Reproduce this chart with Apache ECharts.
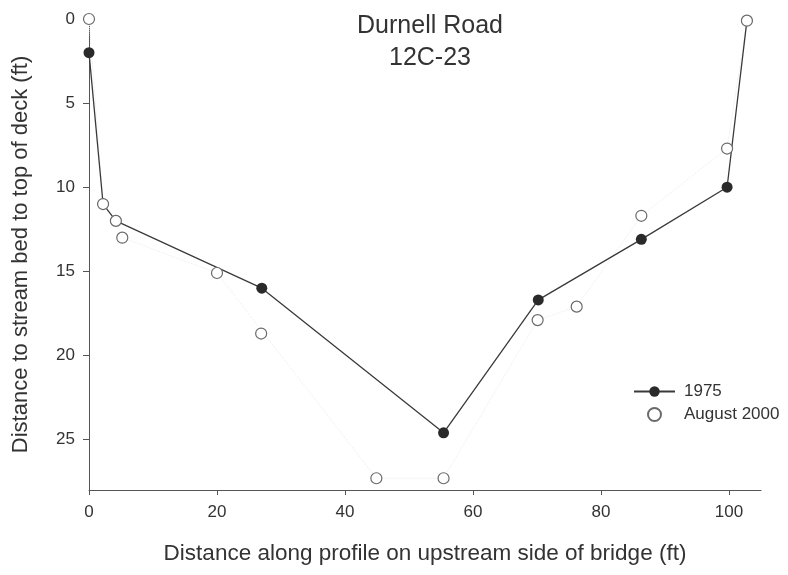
<!DOCTYPE html>
<html>
<head>
<meta charset="utf-8">
<script src="https://cdn.jsdelivr.net/npm/echarts@6/dist/echarts.min.js"></script>
<style>html,body{margin:0;padding:0;background:#fff}#c{width:788px;height:575px}</style>
</head>
<body>
<div id="c"></div>
<script>
// ---- data ----
const xTicks = [0, 20, 40, 60, 80, 100];
const yTicks = [0, 5, 10, 15, 20, 25];

// 1975 profile (vertices of the solid line)
const x1975 = [0.0, 2.2, 4.2, 27.0, 55.4, 70.2, 86.3, 99.7, 102.8];
const y1975 = [2.0, 11.0, 12.0, 16.0, 24.6, 16.7, 13.1, 10.0, 0.1];

// August 2000 survey points
const x2000 = [0.0, 2.2, 4.2, 5.2, 20.0, 26.9, 44.9, 55.4, 70.1, 76.2, 86.3, 99.7, 102.8];
const y2000 = [0.0, 11.0, 12.0, 13.0, 15.1, 18.7, 27.3, 27.3, 17.9, 17.1, 11.7, 7.7, 0.1];
// points joined by the faint 2000 trace (the one at 26.9 ft sits off it)
const trace2000 = [0, 1, 2, 3, 4, 6, 7, 8, 9, 10, 11, 12];

const FONT = "'Liberation Sans', Arial, Helvetica, sans-serif";
const TXT = '#333';
const AX = '#555';

const d1975 = x1975.map((x, i) => [x, y1975[i]]);
const d2000 = x2000.map((x, i) => [x, y2000[i]]);
const dTrace = trace2000.map(i => [x2000[i], y2000[i]]);

const chart = echarts.init(document.getElementById('c'), null, {renderer: 'canvas'});
chart.setOption({
  backgroundColor: '#fff',
  animation: false,
  title: {
    text: 'Durnell Road\n12C-23',
    left: 425, top: 5, textAlign: 'center',
    textStyle: {fontFamily: FONT, fontSize: 25, fontWeight: 'normal', color: TXT, lineHeight: 32}
  },
  grid: {left: 89, top: 19, right: 27, bottom: 85, containLabel: false},
  legend: {
    orient: 'vertical', left: 628, top: 378,
    itemWidth: 41, itemHeight: 13, itemGap: 6,
    textStyle: {fontFamily: FONT, fontSize: 17, color: TXT, padding: [0, 0, 0, 4]},
    data: ['1975', 'August 2000']
  },
  xAxis: {
    type: 'value', min: 0, max: 105,
    name: 'Distance along profile on upstream side of bridge (ft)',
    nameLocation: 'middle', nameGap: 52,
    nameTextStyle: {fontFamily: FONT, fontSize: 22.5, color: TXT},
    axisLine: {onZero: false, lineStyle: {color: AX, width: 1}},
    axisTick: {show: true, length: 5, inside: false, customValues: xTicks, lineStyle: {color: AX}},
    axisLabel: {customValues: xTicks, margin: 14, fontFamily: FONT, fontSize: 17, color: TXT},
    splitLine: {show: false}
  },
  yAxis: {
    type: 'value', min: 0, max: 28, inverse: true,
    name: 'Distance to stream bed to top of deck (ft)',
    nameLocation: 'middle', nameGap: 57,
    nameTextStyle: {fontFamily: FONT, fontSize: 22, color: TXT},
    axisLine: {show: true, onZero: false, lineStyle: {color: AX, width: 1}},
    axisTick: {show: true, length: 6, inside: false, customValues: yTicks, lineStyle: {color: AX}},
    axisLabel: {customValues: yTicks, margin: 14, fontFamily: FONT, fontSize: 17, color: TXT},
    splitLine: {show: false}
  },
  series: [
    {
      name: 'trace2000', type: 'line', data: dTrace, symbol: 'none', silent: true,
      lineStyle: {color: '#ececec', width: 1, type: 'dotted'}, z: 1
    },
    {
      name: '1975', type: 'line', data: d1975,
      symbol: 'circle', symbolSize: 11,
      itemStyle: {color: '#2a2a2a'},
      lineStyle: {color: '#3a3a3a', width: 1.3}, z: 2
    },
    {
      name: 'August 2000', type: 'scatter', data: d2000,
      symbol: 'circle', symbolSize: 11,
      itemStyle: {color: '#fff', borderColor: '#6a6a6a', borderWidth: 1.2, opacity: 1}, z: 3
    }
  ]
});
</script>
</body>
</html>
